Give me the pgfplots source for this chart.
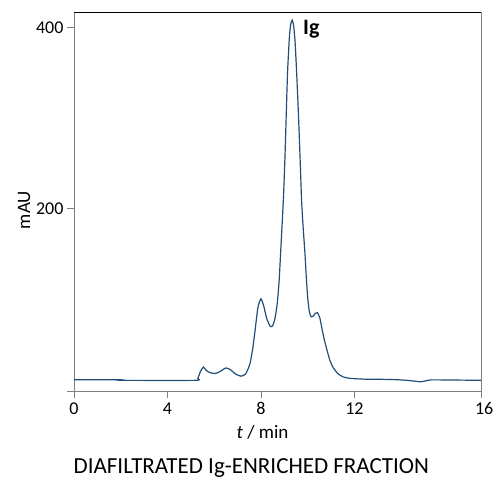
\documentclass[border=0pt]{standalone}
\usepackage{pgfplots}
\pgfplotsset{compat=1.18}
\usepackage{fontspec}
\setmainfont{Carlito}
\definecolor{trace}{HTML}{1F4E79}
\definecolor{axgray}{HTML}{7F7F7F}
\begin{document}
\begin{tikzpicture}
\begin{axis}[
  at={(0pt,0pt)}, anchor=south west,
  scale only axis, width=407pt, height=379pt,
  xmin=0, xmax=17.42, ymin=-2, ymax=417,
  xtick={0,4,8,12,17.42},
  xticklabels={0,4,8,12,\makebox[0pt][l]{\hspace*{-6pt}16}},
  ytick={200,400},
  xtick pos=bottom, ytick pos=left,
  tick align=outside, major tick length=7pt,
  axis line style={axgray, line width=0.8pt},
  tick style={axgray, line width=0.8pt},
  /pgf/number format/assume math mode=true,
  ticklabel style={font=\fontsize{18}{20}\selectfont},
  xticklabel style={yshift=-1pt},
  clip=false,
]
\addplot[trace, line width=1.2pt, smooth, tension=0.35] coordinates {
(0,10.5) (1.98,10.5) (2.02,9.8) (5.2,9.8) (5.3,12) (5.42,20) (5.54,24.5)
(5.65,21) (5.8,18.5) (6.04,17.3) (6.25,19.5) (6.5,23.5) (6.7,21.5) (6.9,17)
(7.15,14.4) (7.35,17) (7.53,28) (7.65,45) (7.75,65) (7.87,90) (8.0,100)
(8.12,92) (8.25,78) (8.4,69.5) (8.5,70) (8.6,78) (8.7,95) (8.78,120)
(8.85,154) (8.96,209) (9.03,257) (9.08,300) (9.14,350) (9.22,390) (9.28,404)
(9.34,408) (9.40,402) (9.46,385) (9.52,355) (9.60,308) (9.67,260) (9.74,209)
(9.81,178) (9.88,152) (9.94,125) (10.0,102) (10.07,86) (10.15,80) (10.23,80.5)
(10.33,84) (10.42,84.5) (10.52,79) (10.62,66) (10.72,54) (10.81,45)
(10.95,32) (11.09,24) (11.3,17) (11.52,13.6) (11.8,12) (12.5,11) (13.0,11)
(13.8,10.5) (14.3,9.7) (14.6,8.8) (14.85,8.2) (15.1,9.5) (15.3,10.3)
(16.0,10.2) (17.42,9.8)
};
\draw[black, line width=0.8pt] (rel axis cs:0,1) -- (rel axis cs:1,1);
\draw[axgray, line width=0.8pt] (rel axis cs:0,0) -- ++(-7pt,0pt);
\end{axis}
\node[anchor=base west, inner sep=0pt, font=\fontsize{22}{24}\selectfont\bfseries] at (229pt,356pt) {Ig};
\node[anchor=base, inner sep=0pt, font=\fontsize{19}{21}\selectfont] at (188.5pt,-47pt) {\textit{t} / min};
\node[rotate=90, inner sep=0pt, font=\fontsize{19}{21}\selectfont] at (-50pt,181pt) {mAU};
\node[anchor=base, inner sep=0pt, font=\fontsize{23}{25}\selectfont] at (177.4pt,-82pt) {DIAFILTRATED Ig-ENRICHED FRACTION};
\pgfresetboundingbox
\path[use as bounding box] (-74pt,-90pt) rectangle (420pt,391pt);
\end{tikzpicture}
\end{document}
